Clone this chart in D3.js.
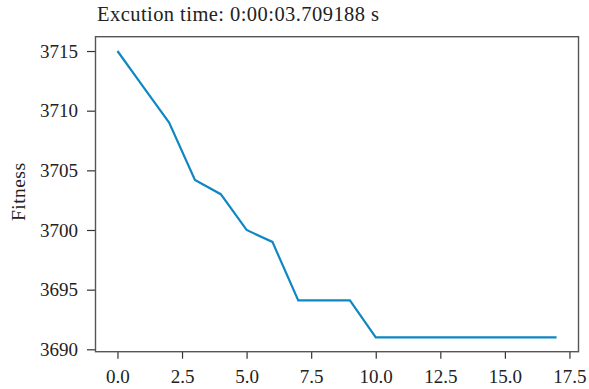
<!DOCTYPE html>
<html>
<head>
<meta charset="utf-8">
<script src="https://cdn.jsdelivr.net/npm/d3@7"></script>
<style>
  body { margin: 0; background: #fff; }
  svg text { font-family: "Liberation Serif", "DejaVu Serif", serif; fill: #222; }
</style>
</head>
<body>
<svg width="589" height="389"></svg>
<script>
// generations and best fitness per generation
var generations = [0, 1, 2, 3, 4, 5, 6, 7, 8, 9, 10, 11, 12, 13, 14, 15, 16, 17];
var fitness = [3715, 3712, 3709, 3704.2, 3703, 3700, 3699, 3694.1, 3694.1, 3694.1,
               3691, 3691, 3691, 3691, 3691, 3691, 3691, 3691];
var xTicks = [0, 2.5, 5, 7.5, 10, 12.5, 15, 17.5];
var yTicks = [3690, 3695, 3700, 3705, 3710, 3715];
var title = 'Excution time: 0:00:03.709188 s';

var lineColor = '#0f87c3';
var margin = {left: 95.5, top: 36.7, right: 10.5, bottom: 37.3};
var width = 589 - margin.left - margin.right;
var height = 389 - margin.top - margin.bottom;

var svg = d3.select('svg');
var g = svg.append('g')
  .attr('transform', 'translate(' + [margin.left, margin.top] + ')');

// matplotlib-like 5% padding around data
var xExt = d3.extent(generations), yExt = d3.extent(fitness);
var xPad = (xExt[1] - xExt[0]) * 0.05, yPad = (yExt[1] - yExt[0]) * 0.05;

var x = d3.scaleLinear().domain([xExt[0] - xPad, xExt[1] + xPad]).range([0, width]);
var y = d3.scaleLinear().domain([yExt[0] - yPad, yExt[1] + yPad]).range([height, 0]);

var xAxis = g.append('g')
  .attr('transform', 'translate(0,' + height + ')')
  .call(d3.axisBottom(x).tickValues(xTicks).tickFormat(d3.format('.1f')).tickSize(7).tickPadding(11));
var yAxis = g.append('g')
  .call(d3.axisLeft(y).tickValues(yTicks).tickFormat(d3.format('d')).tickSize(8.5).tickPadding(9));

[xAxis, yAxis].forEach(function(a) {
  a.select('.domain').remove();
  a.selectAll('line').attr('stroke', '#333').attr('stroke-width', 1.2);
  a.selectAll('text').style('font-size', '19px').style('font-family', '"Liberation Serif", serif').attr('fill', '#222');
});

var line = d3.line()
  .x(function(d, i) { return x(generations[i]); })
  .y(function(d) { return y(d); });

g.append('path')
  .datum(fitness)
  .attr('d', line)
  .attr('fill', 'none')
  .attr('stroke', lineColor)
  .attr('stroke-width', 2.2)
  .attr('stroke-linejoin', 'miter');

// frame
g.append('rect')
  .attr('width', width).attr('height', height)
  .attr('fill', 'none')
  .attr('stroke', '#555')
  .attr('stroke-width', 1.4);

svg.append('text')
  .attr('x', 97)
  .attr('y', 20.7)
  .attr('textLength', 282)
  .attr('lengthAdjust', 'spacing')
  .style('font-size', '20.5px')
  .text(title);

svg.append('text')
  .attr('transform', 'translate(25,192) rotate(-90)')
  .attr('text-anchor', 'middle')
  .attr('textLength', 58)
  .attr('lengthAdjust', 'spacing')
  .style('font-size', '19.5px')
  .text('Fitness');
</script>
</body>
</html>
